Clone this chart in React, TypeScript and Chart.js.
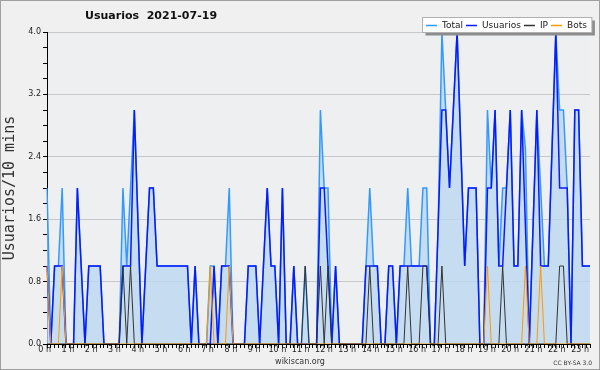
import { useEffect, useRef } from 'react';
import { Chart, registerables } from 'chart.js';

Chart.register(...registerables);

// ---- data ----
const chartTitle = 'Usuarios  2021-07-19';
const yTitle = 'Usuarios/10 mins';
const seriesNames = ['Total', 'Usuarios', 'IP', 'Bots'];

// 10-minute slots of the day (00:00 .. 23:50)
const slots = Array.from({ length: 144 }, (_, i) =>
  `${String(Math.floor(i / 6)).padStart(2, '0')}:${String((i % 6) * 10).padStart(2, '0')}`
);

const hourTicks = [0, 1, 2, 3, 4, 5, 6, 7, 8, 9, 10, 11, 12, 13, 14, 15, 16, 17, 18, 19, 20, 21, 22, 23];
const hourLabels = ['0 h', '1 h', '2 h', '3 h', '4 h', '5 h', '6 h', '7 h', '8 h', '9 h', '10 h', '11 h',
  '12 h', '13 h', '14 h', '15 h', '16 h', '17 h', '18 h', '19 h', '20 h', '21 h', '22 h', '23 h'];

const yTickValues = [0, 0.2, 0.4, 0.6, 0.8, 1.0, 1.2, 1.4, 1.6, 1.8, 2.0, 2.2, 2.4, 2.6, 2.8, 3.0, 3.2, 3.4, 3.6, 3.8, 4.0];
const yLabelValues = [0, 0.8, 1.6, 2.4, 3.2, 4.0];

// one row per hour (6 slots)
const total = [
  2, 0, 1, 1, 2, 0,
  0, 0, 2, 1, 0, 1,
  1, 1, 1, 0, 0, 0,
  0, 0, 2, 1, 2, 3,
  1.5, 0, 1, 2, 2, 1,
  1, 1, 1, 1, 1, 1,
  1, 1, 0, 1, 0, 0,
  0, 1, 1, 0, 1, 1,
  2, 0, 0, 0, 0, 1,
  1, 1, 0, 1, 2, 1,
  1, 0, 2, 0, 0, 1,
  0, 0, 1, 0, 0, 0,
  3, 2, 2, 0, 1, 0,
  0, 0, 0, 0, 0, 0,
  1, 2, 1, 1, 0, 0,
  1, 1, 0, 1, 1, 2,
  1, 1, 1, 2, 2, 0,
  0, 1.5, 4, 3, 2, 3,
  4, 2.5, 1, 2, 2, 2,
  0, 0, 3, 2, 3, 1,
  2, 2, 3, 1, 1, 3,
  2.5, 0, 1.5, 3, 2, 1,
  1, 2.5, 4, 3, 3, 2,
  0, 3, 3, 1, 1, 1,
];

const usuarios = [
  1, 0, 1, 1, 1, 0,
  0, 0, 2, 1, 0, 1,
  1, 1, 1, 0, 0, 0,
  0, 0, 1, 1, 1, 3,
  1.5, 0, 1, 2, 2, 1,
  1, 1, 1, 1, 1, 1,
  1, 1, 0, 1, 0, 0,
  0, 0, 1, 0, 1, 1,
  1, 0, 0, 0, 0, 1,
  1, 1, 0, 1, 2, 1,
  1, 0, 2, 0, 0, 1,
  0, 0, 0, 0, 0, 0,
  2, 2, 1, 0, 1, 0,
  0, 0, 0, 0, 0, 0,
  1, 1, 1, 1, 0, 0,
  1, 1, 0, 1, 1, 1,
  1, 1, 1, 1, 1, 0,
  0, 1.5, 3, 3, 2, 3,
  4, 2.5, 1, 2, 2, 2,
  0, 0, 2, 2, 3, 1,
  1, 2, 3, 1, 1, 3,
  1.5, 0, 1.5, 3, 1, 1,
  1, 2.5, 4, 2, 2, 2,
  0, 3, 3, 1, 1, 1,
];

const ip = [
  0, 0, 0, 0, 0, 0,
  0, 0, 0, 0, 0, 0,
  0, 0, 0, 0, 0, 0,
  0, 0, 1, 0, 1, 0,
  0, 0, 0, 0, 0, 0,
  0, 0, 0, 0, 0, 0,
  0, 0, 0, 0, 0, 0,
  0, 0, 0, 0, 0, 0,
  0, 0, 0, 0, 0, 0,
  0, 0, 0, 0, 0, 0,
  0, 0, 0, 0, 0, 0,
  0, 0, 1, 0, 0, 0,
  1, 0, 1, 0, 0, 0,
  0, 0, 0, 0, 0, 0,
  0, 1, 0, 0, 0, 0,
  0, 0, 0, 0, 0, 1,
  0, 0, 0, 1, 1, 0,
  0, 0, 1, 0, 0, 0,
  0, 0, 0, 0, 0, 0,
  0, 0, 0, 0, 0, 0,
  1, 0, 0, 0, 0, 0,
  0, 0, 0, 0, 0, 0,
  0, 0, 0, 1, 1, 0,
  0, 0, 0, 0, 0, 0,
];

const bots = [
  1, 0, 0, 0, 1, 0,
  0, 0, 0, 0, 0, 0,
  0, 0, 0, 0, 0, 0,
  0, 0, 0, 0, 0, 0,
  0, 0, 0, 0, 0, 0,
  0, 0, 0, 0, 0, 0,
  0, 0, 0, 0, 0, 0,
  0, 1, 0, 0, 0, 0,
  1, 0, 0, 0, 0, 0,
  0, 0, 0, 0, 0, 0,
  0, 0, 0, 0, 0, 0,
  0, 0, 0, 0, 0, 0,
  0, 0, 0, 0, 0, 0,
  0, 0, 0, 0, 0, 0,
  0, 0, 0, 0, 0, 0,
  0, 0, 0, 0, 0, 0,
  0, 0, 0, 0, 0, 0,
  0, 0, 0, 0, 0, 0,
  0, 0, 0, 0, 0, 0,
  0, 0, 1, 0, 0, 0,
  0, 0, 0, 0, 0, 0,
  1, 0, 0, 0, 1, 0,
  0, 0, 0, 0, 0, 0,
  0, 0, 0, 0, 0, 0,
];

const FONT = '"DejaVu Sans", Verdana, sans-serif';
const MONO = '"DejaVu Sans Mono", monospace';

const isMajor = (v: number) => yLabelValues.some((m) => Math.abs(m - v) < 1e-6);

const decor = {
  id: 'decor',
  beforeDraw(chart: any) {
    const { ctx, chartArea: a, width, height } = chart;
    ctx.save();
    ctx.fillStyle = '#f0f0f0';
    ctx.fillRect(0, 0, width, height);
    ctx.fillStyle = '#edeff1';
    ctx.fillRect(a.left, a.top, a.right - a.left, a.bottom - a.top);
    ctx.strokeStyle = '#a0a0a0';
    ctx.lineWidth = 1;
    ctx.strokeRect(0.5, 0.5, width - 1, height - 1);
    ctx.restore();
  },
  afterDraw(chart: any) {
    const { ctx } = chart;
    ctx.save();
    // title
    ctx.font = `bold 11px ${FONT}`;
    ctx.fillStyle = '#111';
    ctx.textBaseline = 'middle';
    ctx.textAlign = 'left';
    ctx.fillText(chartTitle, 85, 16.5);

    // legend box
    ctx.font = `9px ${FONT}`;
    const items = chart.data.datasets.map((d: any) => ({ label: d.label, color: d.borderColor }));
    const lineLen = 11;
    const startX = 426;
    let x = startX;
    const positions: number[] = [];
    items.forEach((it: any) => {
      positions.push(x);
      x += lineLen + 5 + ctx.measureText(it.label).width + 3;
    });
    const boxL = 422.5, boxT = 17.5, boxR = x + 2, boxB = 32.5;
    ctx.fillStyle = '#8c8c8c';
    ctx.fillRect(boxL + 3, boxT + 3, boxR - boxL, boxB - boxT);
    ctx.fillStyle = '#ffffff';
    ctx.fillRect(boxL, boxT, boxR - boxL, boxB - boxT);
    ctx.strokeStyle = '#b0b0b0';
    ctx.lineWidth = 1;
    ctx.strokeRect(boxL, boxT, boxR - boxL, boxB - boxT);
    const ly = 25;
    items.forEach((it: any, i: number) => {
      const px = positions[i];
      ctx.strokeStyle = it.color;
      ctx.lineWidth = 1.5;
      ctx.beginPath();
      ctx.moveTo(px, ly + 0.5);
      ctx.lineTo(px + lineLen, ly + 0.5);
      ctx.stroke();
      ctx.fillStyle = '#222';
      ctx.fillText(it.label, px + lineLen + 5, ly + 0.5);
    });

    // footer
    ctx.font = `8px ${FONT}`;
    ctx.fillStyle = '#333';
    ctx.textAlign = 'center';
    ctx.fillText('wikiscan.org', 300, 362);
    ctx.font = `6px ${FONT}`;
    ctx.textAlign = 'right';
    ctx.fillText('CC BY-SA 3.0', 592, 363);
    ctx.restore();
  },
};

export default function App() {
  const ref = useRef<HTMLCanvasElement>(null);
  useEffect(() => {
    document.body.style.margin = '0';
    const canvas = ref.current;
    if (!canvas) return;
    const chart = new Chart(canvas, {
      type: 'line',
      data: {
        labels: slots,
        datasets: [
          {
            label: seriesNames[0], data: total, borderColor: '#3399ff',
            backgroundColor: 'rgba(188,215,240,0.8)', fill: 'origin', borderWidth: 1.5, order: 4,
          },
          { label: seriesNames[1], data: usuarios, borderColor: '#0a1aff', borderWidth: 1.5, fill: false, order: 3 },
          { label: seriesNames[2], data: ip, borderColor: '#333333', borderWidth: 1, fill: false, order: 2 },
          { label: seriesNames[3], data: bots, borderColor: '#ff9900', borderWidth: 1, fill: false, order: 1 },
        ],
      },
      options: {
        responsive: false,
        animation: false,
        devicePixelRatio: 1,
        layout: { padding: { left: 0, right: 10, top: 32, bottom: 0 } },
        elements: { point: { radius: 0 }, line: { tension: 0 } },
        plugins: { legend: { display: false }, tooltip: { enabled: false }, title: { display: false } },
        scales: {
          x: {
            type: 'category',
            offset: false,
            weight: 0,
            afterFit: (s: any) => { s.height = 0; },
            grid: { display: true, drawOnChartArea: false, drawTicks: true, tickLength: 4, tickColor: '#000', offset: false },
            border: { display: true, color: '#000', width: 1 },
            ticks: { display: false, autoSkip: false, maxRotation: 0, minRotation: 0 },
          },
          x2: {
            type: 'linear',
            position: 'bottom',
            weight: 1,
            min: -0.112,
            max: 23.212,
            afterBuildTicks: (s: any) => { s.ticks = hourTicks.map((v) => ({ value: v })); },
            afterFit: (s: any) => { s.height = 26; },
            grid: { display: false, drawTicks: false },
            border: { display: false },
            ticks: {
              autoSkip: false, maxRotation: 0, minRotation: 0, labelOffset: -5, padding: 1,
              font: { family: FONT, size: 8 }, color: '#222',
              callback: (v: any) => hourLabels[v] ?? '',
            },
          },
          y: {
            type: 'linear',
            min: 0,
            max: 4,
            afterBuildTicks: (s: any) => { s.ticks = yTickValues.map((v) => ({ value: v })); },
            afterFit: (s: any) => { s.width = 47; },
            grid: {
              color: (c: any) => (c.tick && isMajor(c.tick.value) ? '#c8c8c8' : 'rgba(0,0,0,0)'),
              tickColor: '#000', tickLength: 4, drawTicks: true, lineWidth: 1,
            },
            border: { display: true, color: '#000', width: 1 },
            ticks: {
              autoSkip: false, padding: 2, font: { family: FONT, size: 8 }, color: '#222',
              callback: (v: any) => (isMajor(Number(v)) ? Number(v).toFixed(1) : ''),
            },
            title: {
              display: true, text: yTitle, color: '#333',
              font: { family: MONO, size: 15 }, padding: { top: 1, bottom: 0 },
            },
          },
        },
      },
      plugins: [decor],
    } as any);
    return () => chart.destroy();
  }, []);
  return (
    <div style={{ width: 600, height: 370 }}>
      <canvas ref={ref} width={600} height={370} style={{ display: 'block', width: 600, height: 370 }} />
    </div>
  );
}
